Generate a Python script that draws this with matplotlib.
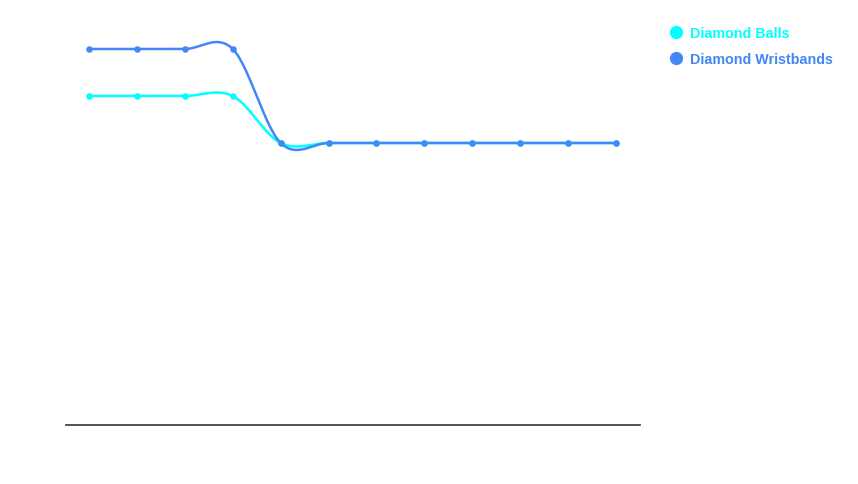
import numpy as np
import matplotlib
matplotlib.use("Agg")
import matplotlib.pyplot as plt
from matplotlib.lines import Line2D

# categories have no visible labels in the reference
categories = list(range(1, 13))
diamond_balls = [7, 7, 7, 7, 6, 6, 6, 6, 6, 6, 6, 6]
diamond_wristbands = [8, 8, 8, 8, 6, 6, 6, 6, 6, 6, 6, 6]

series_names = ["Diamond Balls", "Diamond Wristbands"]
series_colors = ["#00FFFF", "#4287F5"]


def catmull_rom(xs, ys, steps=30):
    # cardinal spline with tension 0, ends duplicated
    px = np.concatenate([[xs[0]], xs, [xs[-1]]]).astype(float)
    py = np.concatenate([[ys[0]], ys, [ys[-1]]]).astype(float)
    out_x, out_y = [], []
    t = np.linspace(0, 1, steps)
    for i in range(1, len(px) - 2):
        for p, out in ((px, out_x), (py, out_y)):
            p0, p1, p2, p3 = p[i - 1], p[i], p[i + 1], p[i + 2]
            m1 = (p2 - p0) / 2
            m2 = (p3 - p1) / 2
            h00 = 2 * t**3 - 3 * t**2 + 1
            h10 = t**3 - 2 * t**2 + t
            h01 = -2 * t**3 + 3 * t**2
            h11 = t**3 - t**2
            out.extend(h00 * p1 + h10 * m1 + h01 * p2 + h11 * m2)
    return np.array(out_x), np.array(out_y)


fig = plt.figure(figsize=(8.58, 4.84), dpi=100)
ax = fig.add_axes([66 / 858, 59 / 484, 574 / 858, 423 / 484])

x = np.arange(len(categories))
for vals, color in zip([diamond_balls, diamond_wristbands], series_colors):
    sx, sy = catmull_rom(x, np.array(vals))
    ax.plot(sx, sy, color=color, lw=1.8, solid_capstyle="round", zorder=2)
    ax.scatter(x, vals, s=22, color=color, zorder=3, linewidths=0)

ax.set_xlim(-0.48, len(categories) - 0.5)
ax.set_ylim(0, 9)
for side in ["top", "right", "left"]:
    ax.spines[side].set_visible(False)
ax.spines["bottom"].set_color("#333333")
ax.spines["bottom"].set_linewidth(1.2)
ax.set_xticks([])
ax.set_yticks([])

# legend drawn at top right
for i, (name, color) in enumerate(zip(series_names, series_colors)):
    yy = 1 - (32 + 26 * i) / 484
    fig.add_artist(Line2D([676 / 858], [yy], marker="o", markersize=8.5,
                          color=color, transform=fig.transFigure))
    fig.text(690 / 858, yy, name, color=color, fontsize=10.3, fontweight="bold",
             family="Liberation Sans", va="center_baseline", ha="left")

fig.savefig("out.png", dpi=100)
